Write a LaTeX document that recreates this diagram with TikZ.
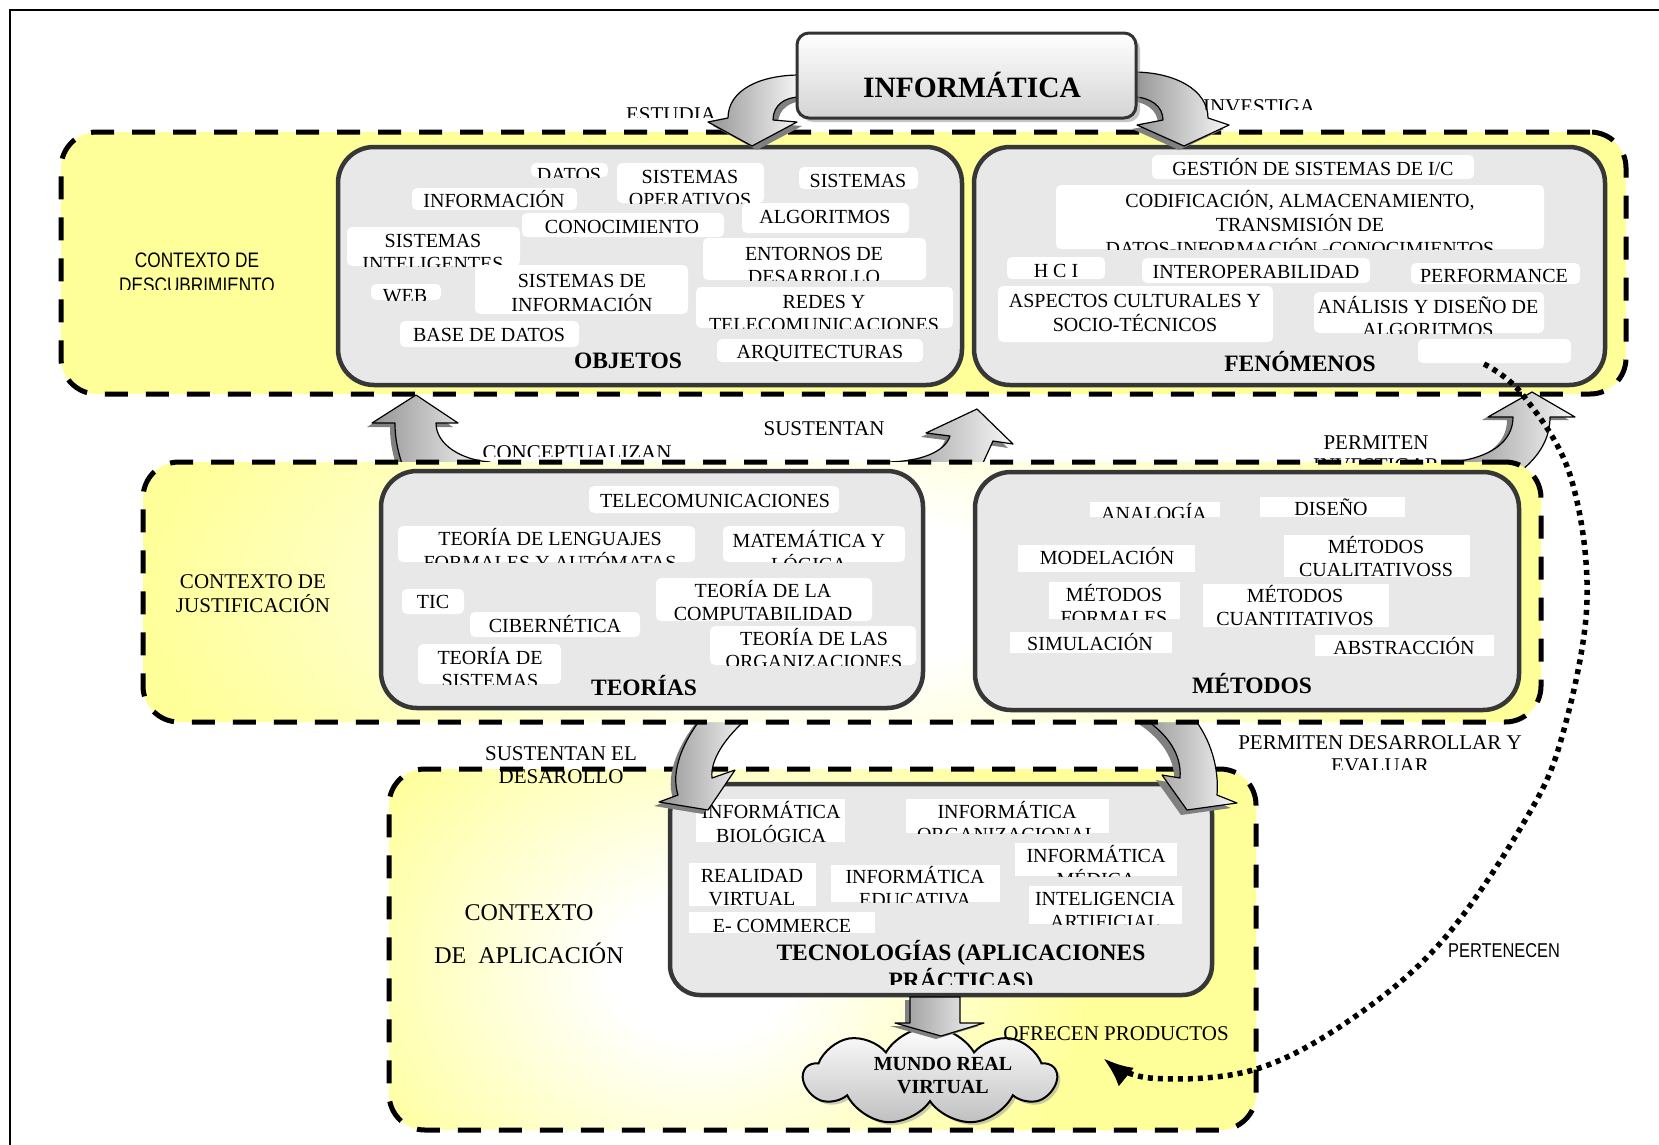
\documentclass[tikz,border=0pt]{standalone}
\usepackage{fontspec}
\setmainfont{Liberation Serif}
\newfontfamily\condsans[FakeStretch=0.82]{Liberation Sans}
\usetikzlibrary{shapes.symbols,shadows,arrows.meta,calc}
\definecolor{yfill}{RGB}{255,255,153}
\definecolor{gbox}{RGB}{232,232,232}
\definecolor{gline}{RGB}{55,55,55}
\pgfdeclareradialshading{glowA}{\pgfpoint{0bp}{0bp}}{rgb(0bp)=(1,1,1); rgb(3.2bp)=(1,1,1); rgb(14bp)=(1,1,0.6); rgb(50bp)=(1,1,0.6)}
\pgfdeclareradialshading{glowB}{\pgfpoint{0bp}{0bp}}{rgb(0bp)=(1,1,1); rgb(4.2bp)=(1,1,1); rgb(17.5bp)=(1,1,0.6); rgb(50bp)=(1,1,0.6)}
\newcommand\curfont{\fontsize{20}{23}\selectfont}
% #1 style, #2 x1, #3 y1, #4 x2, #5 y2, #6 text x, #7 first baseline y, #8 name, #9 text
\newcommand\itm[9][itembox]{%
  \node[#1, minimum width={(#4)-(#2)}, minimum height={(#5)-(#3)},
    path picture={\node[itemtext] at ([xshift={(#6)-(#2)}, yshift={(#3)-(#7)}]path picture bounding box.north west) {\begin{tabular}[t]{@{}c@{}}#9\end{tabular}};}]
    (#8) at ({((#2)+(#4))/2},{((#3)+(#5))/2}) {};}
\newcommand\blockarrow[3]{%
  \fill[arrowshadow, xshift=#1pt, yshift=#2pt] #3;
  \draw[blockarrowbody] #3;}
\tikzset{
  region/.style={fill=yfill, draw=black, line width=5pt, dash pattern=on 23pt off 18pt, rounded corners=36pt, inner sep=0pt, outer sep=0pt},
  graybox/.style={fill=gbox, draw=gline, line width=4.5pt, rounded corners=36pt, inner sep=0pt},
  itembox/.style={fill=white, rounded corners=5pt, inner sep=0pt, outer sep=0pt},
  sqbox/.style={fill=white, inner sep=0pt, outer sep=0pt},
  clipbox/.style={inner sep=0pt, outer sep=0pt},
  itemtext/.style={anchor=base, inner sep=0pt, outer sep=0pt, minimum width=0pt, minimum height=0pt, font=\curfont},
  lbl/.style={anchor=base, inner sep=0pt, font=\fontsize{21}{23}\selectfont},
  hdr/.style={anchor=base, inner sep=0pt, font=\fontsize{23.5}{27}\selectfont\bfseries},
  blockarrowbody/.style={draw=black, line width=1.2pt, left color=black!42, right color=black!3, line join=round},
  arrowshadow/.style={fill=black!50, draw=none},
  dotline/.style={line width=5.5pt, dash pattern=on 5pt off 5pt, -{Latex[length=30pt,width=24pt]}},
}
\begin{document}
\begin{tikzpicture}[x=1pt,y=-1pt]
\useasboundingbox (0,0) rectangle (1659,1144);
\fill[white] (0,0) rectangle (1659,1144);
\draw[line width=1.6pt] (10,1160) -- (10,10) -- (1670,10);

% ---------- region 1 ----------
\node[region, minimum width=1565, minimum height=262] (r1) at (843.5,263) {};
\node[graybox, minimum width=624, minimum height=238] (objetos) at (650,266) {};
\node[graybox, minimum width=631, minimum height=238] (fenomenos) at (1289.5,266) {};
\itm{531}{163}{608}{177}{569}{181}{datos}{DATOS}
\itm{617}{163}{764}{203}{690}{183}{sisop}{SISTEMAS\\OPERATIVOS}
\itm{412}{188}{577}{210}{494}{207}{informacion}{INFORMACIÓN}
\itm{522}{213}{724}{237}{622}{233}{conocimiento}{CONOCIMIENTO}
\itm{347}{227}{520}{266}{433}{247}{sisint}{SISTEMAS\\INTELIGENTES}
\itm{371}{284}{441}{300}{405}{302}{web}{WEB}
\itm{475}{265}{688}{314}{582}{287}{sisinf}{SISTEMAS DE\\INFORMACIÓN}
\itm{400}{321}{579}{347}{489}{341}{basedatos}{BASE DE DATOS}
\itm{799}{167}{918}{189}{858}{187}{sistemas}{SISTEMAS}
\itm{742}{203}{909}{233}{825}{223}{algoritmos}{ALGORITMOS}
\itm{703}{238}{926}{280}{814}{260}{entornos}{ENTORNOS DE\\DESARROLLO}
\itm{696}{287}{953}{328}{824}{308}{redes}{REDES Y\\TELECOMUNICACIONES}
\itm{717}{339}{923}{362}{820}{358}{arquitecturas}{ARQUITECTURAS}
\itm{1152}{155}{1474}{179}{1313}{175}{gestion}{GESTIÓN DE SISTEMAS DE I/C}
\itm{1056}{185}{1544}{249}{1300}{207}{codif}{CODIFICACIÓN, ALMACENAMIENTO,\\TRANSMISIÓN DE\\DATOS-INFORMACIÓN -CONOCIMIENTOS}
\itm{1007}{257}{1105}{279}{1056}{277}{hci}{H C I}
\itm{1142}{258}{1370}{283}{1256}{278}{interop}{INTEROPERABILIDAD}
\itm{1411}{263}{1580}{284}{1494}{282}{performance}{PERFORMANCE}
\itm{998}{286}{1273}{342}{1135}{307}{aspectos}{ASPECTOS CULTURALES Y\\SOCIO-TÉCNICOS}
\itm{1314}{292}{1544}{333}{1428}{313}{analisis}{ANÁLISIS Y DISEÑO DE\\ALGORITMOS}
\node[itembox, minimum width=153, minimum height=24] (vacio) at (1494.5,351) {};
\node[hdr] (objtxt) at (628,368) {OBJETOS};
\node[hdr] (fentxt) at (1300,371) {FENÓMENOS};

% ---------- region 3 ----------
\node[region, minimum width=867, minimum height=361,
  path picture={\shade[shading=glowA] ($(path picture bounding box.center)+(-122,20)$) +(-700,-560) rectangle +(700,560);}] (r3) at (822.5,949.5) {};
\node[graybox, rounded corners=30pt, minimum width=542, minimum height=211] (tecno) at (941,889.5) {};
\itm[sqbox]{696}{799}{845}{842}{771}{818}{biologica}{INFORMÁTICA\\BIOLÓGICA}
\itm[sqbox]{906}{799}{1109}{833}{1007}{818}{organizacional}{INFORMÁTICA\\ORGANIZACIONAL}
\itm[sqbox]{1015}{843}{1177}{876}{1096}{862}{medica}{INFORMÁTICA\\MÉDICA}
\itm[sqbox]{689}{863}{816}{906}{752}{882}{realidad}{REALIDAD\\VIRTUAL}
\itm[sqbox]{831}{865}{1000}{902}{915}{883}{educativa}{INFORMÁTICA\\EDUCATIVA}
\itm[sqbox]{1029}{886}{1182}{924}{1105}{905}{inteligencia}{INTELIGENCIA\\ARTIFICIAL}
\itm[sqbox]{689}{912}{875}{933}{782}{932}{ecommerce}{E- COMMERCE}
\renewcommand\curfont{\fontsize{23.5}{27}\selectfont\bfseries}
\itm[clipbox]{740}{930}{1180}{984}{961}{960}{tectxt}{TECNOLOGÍAS (APLICACIONES\\PRÁCTICAS)}
\node[cloud, cloud puffs=9, cloud puff arc=120, cloud ignores aspect, minimum width=252pt, minimum height=98pt,
  draw=black, line width=2pt, top color=white, bottom color=black!25, inner sep=0pt,
  drop shadow={shadow xshift=3pt, shadow yshift=-3pt, fill=black!40}] (cloud) at (930,1076) {};

% ---------- arrows from INFORMATICA ----------
\blockarrow{5}{-4}{(800,75) .. controls (760,75) and (728,90) .. (728,118) -- (708,122) -- (752,146) -- (797,122) -- (773,120) .. controls (773,105) and (785,97) .. (800,97) -- cycle}
\blockarrow{-5}{-4}{(1133,72) .. controls (1175,72) and (1208,90) .. (1208,118) -- (1229,125) -- (1184,146) -- (1137,125) -- (1163,120) .. controls (1163,106) and (1150,97) .. (1133,97) -- cycle}
\node[minimum width=339, minimum height=85, rounded corners=12pt, draw=black!80, line width=3pt,
  top color=white, bottom color=black!17, drop shadow={shadow xshift=4pt, shadow yshift=-4pt, fill=black!45}] (info) at (966.5,75.5) {};
\node[anchor=base, inner sep=0pt, font=\fontsize{29.5}{30}\selectfont\bfseries] (infotxt) at (972,97) {INFORMÁTICA};

% ---------- arrows between rows ----------
\blockarrow{-5}{-4}{(416,395) -- (458,423) -- (436,423) .. controls (436,445) and (462,460) .. (490,462) -- (490,470) -- (404,470) .. controls (398,452) and (395,440) .. (395,423) -- (372,423) -- cycle}
\blockarrow{-5}{-4}{(977,409) -- (1013,444) -- (993,441) .. controls (989,450) and (985,458) .. (980,470) -- (885,470) -- (885,462) .. controls (920,462) and (945,452) .. (950,436) -- (926,433) -- cycle}
\blockarrow{-6}{-3}{(1532,392) -- (1575,417) -- (1550,417) .. controls (1550,438) and (1540,455) .. (1522,470) -- (1452,470) -- (1452,462) .. controls (1490,458) and (1513,442) .. (1513,417) -- (1488,417) -- cycle}
\blockarrow{-5}{-4}{(703,716) .. controls (684,740) and (670,770) .. (678,795) -- (659,802) -- (708,810) -- (735,770) -- (712,778) .. controls (710,760) and (725,737) .. (750,716) -- cycle}
\blockarrow{-6}{-5}{(1140,716) .. controls (1168,733) and (1182,755) .. (1180,778) -- (1162,775) -- (1187,810) -- (1237,803) -- (1217,795) .. controls (1219,770) and (1212,740) .. (1192,716) -- cycle}

% ---------- region 2 ----------
\node[region, minimum width=1398, minimum height=260,
  path picture={\shade[shading=glowB] ($(path picture bounding box.center)+(0,0)$) +(-1000,-460) rectangle +(1000,460);}] (r2) at (842,592) {};
\node[graybox, minimum width=542, minimum height=237] (teorias) at (652,589.5) {};
\node[graybox, minimum width=544, minimum height=238] (metodos) at (1247,591) {};
\renewcommand\curfont{\fontsize{20}{23}\selectfont}
\itm{589}{486}{839}{513}{715}{507}{telecom}{TELECOMUNICACIONES}
\itm{398}{526}{695}{562}{550}{545}{lenguajes}{TEORÍA DE LENGUAJES\\FORMALES Y AUTÓMATAS}
\itm{723}{526}{905}{562}{809}{547}{matematica}{MATEMÁTICA Y\\LÓGICA}
\itm{402}{589}{464}{614}{433}{608}{tic}{TIC}
\itm{470}{612}{640}{637}{555}{632}{cibernetica}{CIBERNÉTICA}
\itm{656}{578}{872}{621}{763}{597}{computabilidad}{TEORÍA DE LA\\COMPUTABILIDAD}
\itm{418}{644}{561}{684}{490}{664}{teosis}{TEORÍA DE\\SISTEMAS}
\itm{710}{626}{916}{665}{814}{645}{organizaciones}{TEORÍA DE LAS\\ORGANIZACIONES}
\itm[sqbox]{1090}{502}{1220}{517}{1154}{520}{analogia}{ANALOGÍA}
\itm[sqbox]{1260}{497}{1405}{517}{1331}{515}{diseno}{DISEÑO}
\itm[sqbox]{1018}{545}{1195}{572}{1107}{564}{modelacion}{MODELACIÓN}
\itm[sqbox]{1284}{535}{1470}{577}{1376}{553}{cualitativos}{MÉTODOS\\CUALITATIVOSS}
\itm[sqbox]{1049}{582}{1180}{619}{1114}{601}{formales}{MÉTODOS\\FORMALES}
\itm[sqbox]{1203}{584}{1389}{627}{1295}{602}{cuantitativos}{MÉTODOS\\CUANTITATIVOS}
\itm[sqbox]{1010}{632}{1172}{653}{1090}{650}{simulacion}{SIMULACIÓN}
\itm[sqbox]{1315}{635}{1494}{656}{1404}{654}{abstraccion}{ABSTRACCIÓN}
\node[hdr] (teotxt) at (644,695) {TEORÍAS};
\node[hdr] (mettxt) at (1252,693) {MÉTODOS};

% ---------- arrow to cloud ----------
\blockarrow{-5}{-3}{(910,997) -- (910,1023) -- (895,1023) -- (941,1036) -- (984,1023) -- (960,1023) -- (960,997) -- cycle}
\node[anchor=base, inner sep=0pt, font=\fontsize{20}{23}\selectfont\bfseries] (cloudtxt) at (943,1070) {\begin{tabular}[t]{@{}c@{}}MUNDO REAL\\VIRTUAL\end{tabular}};

% ---------- dotted PERTENECEN ----------
\coordinate (pstart) at (1484,364);
\coordinate (pend) at (1103,1058);
\draw[dotline] plot[smooth, tension=0.6] coordinates {(pstart) (1522,394) (1570,475) (1587,600) (1563,733) (1527,817) (1443,940) (1350,1020) (1253,1070) (1150,1078) (pend)};

% ---------- labels ----------
\renewcommand\curfont{\fontsize{21}{23}\selectfont}
\itm[clipbox]{620}{95}{722}{117}{671}{121}{estudia}{ESTUDIA}
\itm[clipbox]{1195}{88}{1325}{109}{1259}{113}{investiga}{INVESTIGA}
\itm[clipbox]{470}{432}{690}{456}{577}{459}{conceptualizan}{CONCEPTUALIZAN}
\itm[clipbox]{1300}{425}{1455}{462}{1376}{449}{permiteninv}{PERMITEN\\INVESTIGAR}
\itm[clipbox]{1220}{725}{1540}{769}{1380}{749}{permitendes}{PERMITEN DESARROLLAR Y\\EVALUAR}
\renewcommand\curfont{\fontsize{21}{25}\selectfont\condsans}
\itm[clipbox]{100}{240}{300}{289}{197}{267}{ctxdesc}{CONTEXTO DE\\DESCUBRIMIENTO}
\node[lbl] (sustentan) at (824,435) {SUSTENTAN};
\node[lbl] (sustdes) at (561,760) {\begin{tabular}[t]{@{}c@{}}SUSTENTAN EL\\DESAROLLO\end{tabular}};
\node[lbl] (ofrecen) at (1116,1040) {OFRECEN PRODUCTOS};
\node[lbl] (ctxjus) at (253,588) {\begin{tabular}[t]{@{}c@{}}CONTEXTO DE\\JUSTIFICACIÓN\end{tabular}};
\node[anchor=base, inner sep=0pt, font=\fontsize{24}{43}\selectfont] (ctxapl) at (529,920) {\begin{tabular}[t]{@{}c@{}}CONTEXTO\\DE\ \ APLICACIÓN\end{tabular}};
\node[anchor=base, inner sep=0pt, font=\fontsize{20}{23}\selectfont\condsans] (pertenecen) at (1504,957) {PERTENECEN};
\end{tikzpicture}
\end{document}
